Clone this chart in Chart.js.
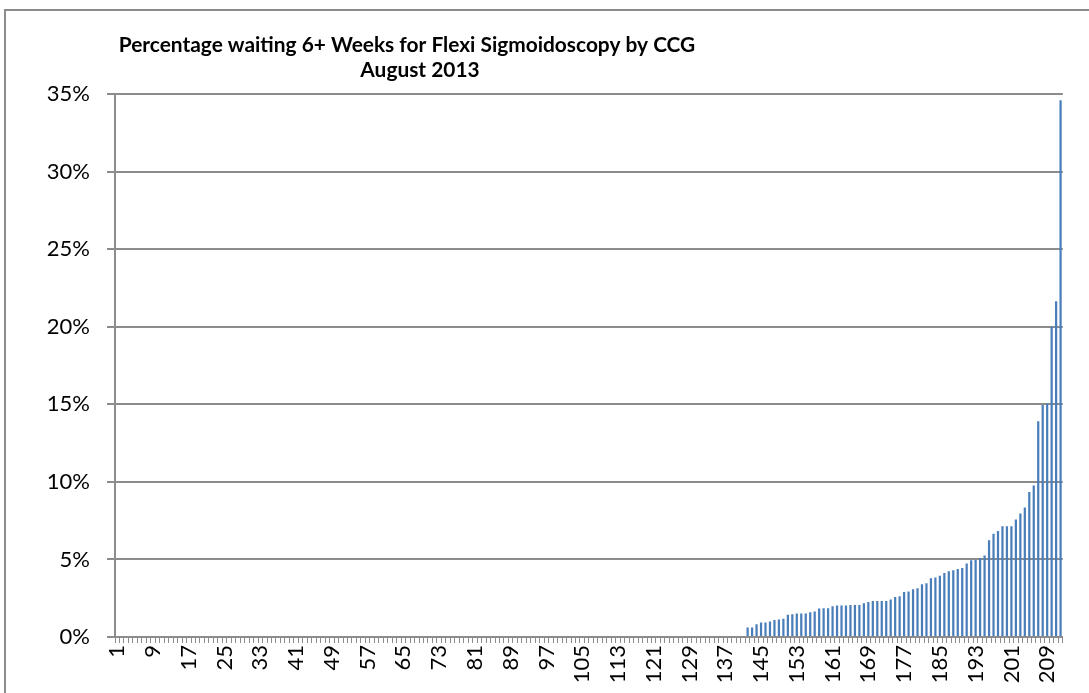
<!DOCTYPE html>
<html><head><meta charset="utf-8">
<script src="https://cdn.jsdelivr.net/npm/chart.js@4.4.0/dist/chart.umd.min.js"></script>
<style>
html,body{margin:0;padding:0;background:#fff;overflow:hidden;}
#wrap{position:relative;width:1089px;height:693px;overflow:hidden;}
#frame{position:absolute;left:4px;top:9px;width:1200px;height:800px;border-left:2px solid #8c8c8c;border-top:2px solid #8c8c8c;}
canvas{position:absolute;left:0;top:0;}
</style></head>
<body><div id="wrap"><div id="frame"></div><canvas id="c" width="1089" height="693"></canvas></div>
<script>
const titleLines = ['Percentage waiting 6+ Weeks for Flexi Sigmoidoscopy by CCG', 'August 2013'];

const categories = [
'1','2','3','4','5','6','7','8','9','10','11','12','13','14','15','16','17','18','19','20',
'21','22','23','24','25','26','27','28','29','30','31','32','33','34','35','36','37','38','39','40',
'41','42','43','44','45','46','47','48','49','50','51','52','53','54','55','56','57','58','59','60',
'61','62','63','64','65','66','67','68','69','70','71','72','73','74','75','76','77','78','79','80',
'81','82','83','84','85','86','87','88','89','90','91','92','93','94','95','96','97','98','99','100',
'101','102','103','104','105','106','107','108','109','110','111','112','113','114','115','116','117','118','119','120',
'121','122','123','124','125','126','127','128','129','130','131','132','133','134','135','136','137','138','139','140',
'141','142','143','144','145','146','147','148','149','150','151','152','153','154','155','156','157','158','159','160',
'161','162','163','164','165','166','167','168','169','170','171','172','173','174','175','176','177','178','179','180',
'181','182','183','184','185','186','187','188','189','190','191','192','193','194','195','196','197','198','199','200',
'201','202','203','204','205','206','207','208','209','210','211','212'
];

const xTickLabels = ['1','9','17','25','33','41','49','57','65','73','81','89','97','105','113','121','129','137','145','153','161','169','177','185','193','201','209'];

const yTickValues = [0, 5, 10, 15, 20, 25, 30, 35];

// percentage waiting 6+ weeks, CCGs ranked
const waitingPct = [
0,0,0,0,0,0,0,0,0,0,0,0,0,0,0,0,0,0,0,0,
0,0,0,0,0,0,0,0,0,0,0,0,0,0,0,0,0,0,0,0,
0,0,0,0,0,0,0,0,0,0,0,0,0,0,0,0,0,0,0,0,
0,0,0,0,0,0,0,0,0,0,0,0,0,0,0,0,0,0,0,0,
0,0,0,0,0,0,0,0,0,0,0,0,0,0,0,0,0,0,0,0,
0,0,0,0,0,0,0,0,0,0,0,0,0,0,0,0,0,0,0,0,
0,0,0,0,0,0,0,0,0,0,0,0,0,0,0,0,0,0,0,0,
0,
0.62,0.62,0.82,0.93,0.93,1.00,1.09,1.12,1.18,1.43,
1.47,1.52,1.52,1.52,1.59,1.65,1.83,1.86,1.86,1.98,
2.03,2.03,2.03,2.07,2.07,2.07,2.18,2.25,2.32,2.32,
2.32,2.32,2.42,2.58,2.62,2.90,2.94,3.07,3.14,3.40,
3.46,3.79,3.83,3.94,4.12,4.23,4.31,4.39,4.45,4.74,
4.95,4.97,5.10,5.25,6.23,6.66,6.83,7.14,7.14,7.14,
7.57,7.96,8.34,9.35,9.76,13.90,14.95,15.05,20.00,21.64,
34.60
];

const titlePlugin = {
  id: 'customTitle',
  afterDraw(chart) {
    const c = chart.ctx;
    c.save();
    c.font = 'bold 100px Lato';
    const w = c.measureText(titleLines[0]).width;
    const size = 100 * 577 / w;
    c.font = 'bold ' + size.toFixed(2) + 'px Lato';
    c.fillStyle = '#000';
    c.textAlign = 'center';
    c.textBaseline = 'middle';
    c.fillText(titleLines[0], 407, 45);
    c.fillText(titleLines[1], 420, 70);
    c.restore();
  }
};

const gridGray = '#8c8c8c';

new Chart(document.getElementById('c'), {
  type: 'bar',
  data: {
    labels: categories,
    datasets: [{
      data: waitingPct,
      backgroundColor: '#4a7ebb',
      borderWidth: 0,
      barPercentage: 0.5,
      categoryPercentage: 1.0
    }]
  },
  options: {
    responsive: false,
    animation: false,
    devicePixelRatio: 1,
    layout: { padding: { left: 45, top: 94, right: 6, bottom: 0 } },
    plugins: { legend: { display: false }, title: { display: false }, tooltip: { enabled: false } },
    scales: {
      x: {
        grid: { display: true, drawOnChartArea: false, drawTicks: true, tickLength: 6, color: gridGray, lineWidth: 1, offset: true },
        border: { color: gridGray, width: 2 },
        ticks: {
          autoSkip: false, minRotation: 90, maxRotation: 90, padding: 2, color: '#000',
          font: { family: 'Lato', size: 22 },
          callback(v, i) { const l = categories[i]; return xTickLabels.includes(l) ? l : ''; }
        },
        afterFit(s) { s.height = 56; }
      },
      y: {
        min: 0, max: 35,
        afterBuildTicks(s) { s.ticks = yTickValues.map(v => ({ value: v })); },
        ticks: { callback: v => v + '%', padding: 17, color: '#000', font: { family: 'Lato', size: 22 } },
        grid: { color: gridGray, lineWidth: 2, tickLength: 8 },
        border: { color: gridGray, width: 2 },
        afterFit(s) { s.width = 70; }
      }
    }
  },
  plugins: [titlePlugin]
});
</script>
</body></html>
